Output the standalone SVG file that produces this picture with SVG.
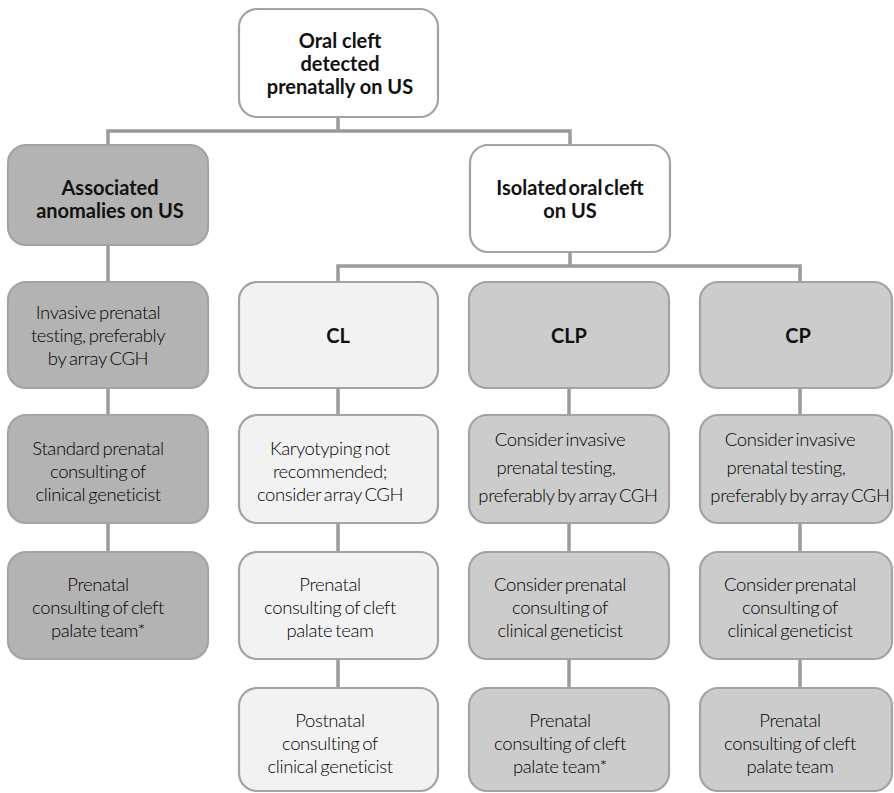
<svg xmlns="http://www.w3.org/2000/svg" width="894" height="793" viewBox="0 0 894 793">
<style>
.box{stroke:#a3a3a3;stroke-width:2.2}
.w{fill:#ffffff}
.d{fill:#b3b3b3}
.m{fill:#cccccc}
.l{fill:#f2f2f2}
.con{stroke:#9b9b9b;stroke-width:3.5;fill:none}
.t{font-family:Lato,"Liberation Sans",sans-serif;font-size:18.5px;font-weight:300;fill:#000000;text-anchor:middle;letter-spacing:-0.4px;word-spacing:-1.5px}
.b{font-family:Lato,"Liberation Sans",sans-serif;font-size:20px;font-weight:700;fill:#111111;text-anchor:middle}
</style>
<rect width="894" height="793" fill="#ffffff"/>
<g id="connectors">
<path class="con" d="M338 117V131M108 145V131H570V145"/>
<path class="con" d="M570 252V266M338 282V266H800V282"/>
<path class="con" d="M108 245V282M108 388V415M108 523V552"/>
<path class="con" d="M338 388V415M338 523V552M338 659V688"/>
<path class="con" d="M569 388V415M569 523V552M569 659V688"/>
<path class="con" d="M800 388V415M800 523V552M800 659V688"/>
</g>
<g id="n-top"><rect class="box w" x="239" y="9" width="199" height="108" rx="18"/>
<text class="b" x="340"><tspan x="340" y="48">Oral cleft</tspan><tspan x="340" y="71">detected</tspan><tspan x="340" y="94">prenatally on US</tspan></text></g>
<g id="n-assoc"><rect class="box d" x="8" y="145" width="200" height="100" rx="18"/>
<text class="b"><tspan x="110" y="195">Associated</tspan><tspan x="110" y="218">anomalies on US</tspan></text></g>
<g id="n-isolated"><rect class="box w" x="470" y="145" width="200" height="107" rx="18"/>
<text class="b"><tspan x="570" y="195" word-spacing="-3">Isolated oral cleft</tspan><tspan x="570" y="218">on US</tspan></text></g>

<g id="n-a1"><rect class="box d" x="8" y="282" width="200" height="106" rx="18"/>
<text class="t"><tspan x="98" y="319">Invasive prenatal</tspan><tspan x="98" y="342">testing, preferably</tspan><tspan x="98" y="365">by array CGH</tspan></text></g>
<g id="n-a2"><rect class="box d" x="8" y="415" width="200" height="108" rx="18"/>
<text class="t"><tspan x="98" y="455">Standard prenatal</tspan><tspan x="98" y="478">consulting of</tspan><tspan x="98" y="501">clinical geneticist</tspan></text></g>
<g id="n-a3"><rect class="box d" x="8" y="552" width="200" height="107" rx="18"/>
<text class="t"><tspan x="98" y="591">Prenatal</tspan><tspan x="98" y="614">consulting of cleft</tspan><tspan x="98" y="637">palate team*</tspan></text></g>

<g id="n-cl"><rect class="box l" x="239" y="282" width="199" height="106" rx="18"/>
<text class="b" x="338" y="343">CL</text></g>
<g id="n-cl1"><rect class="box l" x="239" y="415" width="199" height="108" rx="18"/>
<text class="t"><tspan x="330" y="455">Karyotyping not</tspan><tspan x="330" y="478">recommended;</tspan><tspan x="330" y="501">consider array CGH</tspan></text></g>
<g id="n-cl2"><rect class="box l" x="239" y="552" width="199" height="107" rx="18"/>
<text class="t"><tspan x="330" y="591">Prenatal</tspan><tspan x="330" y="614">consulting of cleft</tspan><tspan x="330" y="637">palate team</tspan></text></g>
<g id="n-cl3"><rect class="box l" x="239" y="688" width="199" height="103" rx="18"/>
<text class="t"><tspan x="330" y="727">Postnatal</tspan><tspan x="330" y="750">consulting of</tspan><tspan x="330" y="773">clinical geneticist</tspan></text></g>

<g id="n-clp"><rect class="box m" x="469" y="282" width="200" height="106" rx="18"/>
<text class="b" x="569" y="343">CLP</text></g>
<g id="n-clp1"><rect class="box m" x="469" y="415" width="200" height="108" rx="18"/>
<text class="t"><tspan x="560" y="446">Consider invasive</tspan><tspan x="556" y="474">prenatal testing,</tspan><tspan x="568" y="502">preferably by array CGH</tspan></text></g>
<g id="n-clp2"><rect class="box m" x="469" y="552" width="200" height="107" rx="18"/>
<text class="t"><tspan x="560" y="591">Consider prenatal</tspan><tspan x="560" y="614">consulting of</tspan><tspan x="560" y="637">clinical geneticist</tspan></text></g>
<g id="n-clp3"><rect class="box m" x="469" y="688" width="200" height="103" rx="18"/>
<text class="t"><tspan x="560" y="727">Prenatal</tspan><tspan x="560" y="750">consulting of cleft</tspan><tspan x="560" y="773">palate team*</tspan></text></g>

<g id="n-cp"><rect class="box m" x="700" y="282" width="192" height="106" rx="18"/>
<text class="b" x="798" y="343">CP</text></g>
<g id="n-cp1"><rect class="box m" x="700" y="415" width="192" height="108" rx="18"/>
<text class="t"><tspan x="790" y="446">Consider invasive</tspan><tspan x="786" y="474">prenatal testing,</tspan><tspan x="800" y="502">preferably by array CGH</tspan></text></g>
<g id="n-cp2"><rect class="box m" x="700" y="552" width="192" height="107" rx="18"/>
<text class="t"><tspan x="790" y="591">Consider prenatal</tspan><tspan x="790" y="614">consulting of</tspan><tspan x="790" y="637">clinical geneticist</tspan></text></g>
<g id="n-cp3"><rect class="box m" x="700" y="688" width="192" height="103" rx="18"/>
<text class="t"><tspan x="790" y="727">Prenatal</tspan><tspan x="790" y="750">consulting of cleft</tspan><tspan x="790" y="773">palate team</tspan></text></g>
</svg>
